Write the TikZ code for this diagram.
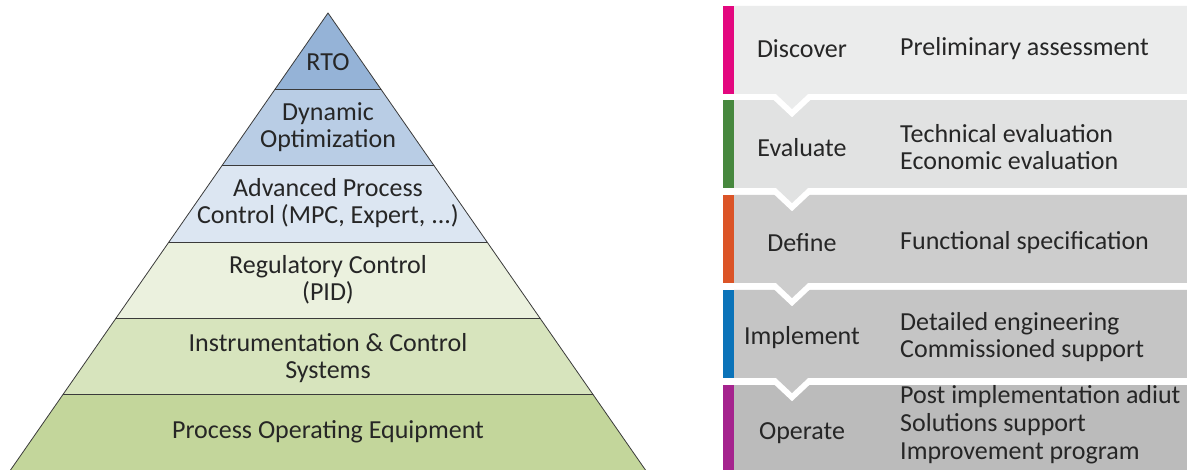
\documentclass[tikz,border=0pt]{standalone}
\usepackage{fontspec}
\setmainfont{Carlito}
\definecolor{textgray}{HTML}{262626}
\definecolor{edgegray}{HTML}{3A3A3A}
\definecolor{lRTO}{HTML}{95B3D7}
\definecolor{lDYN}{HTML}{B9CDE5}
\definecolor{lAPC}{HTML}{DCE6F2}
\definecolor{lREG}{HTML}{EBF1DE}
\definecolor{lINS}{HTML}{D7E4BD}
\definecolor{lPOE}{HTML}{C3D69B}
\definecolor{bDis}{HTML}{EBECEC}
\definecolor{bEva}{HTML}{E1E2E2}
\definecolor{bDef}{HTML}{CDCDCD}
\definecolor{bImp}{HTML}{C5C5C5}
\definecolor{bOpe}{HTML}{BBBBBB}
\definecolor{cDis}{HTML}{E3077F}
\definecolor{cEva}{HTML}{47883E}
\definecolor{cDef}{HTML}{DB5427}
\definecolor{cImp}{HTML}{0B73B9}
\definecolor{cOpe}{HTML}{A5238E}
\begin{document}
\begin{tikzpicture}[x=1pt,y=-1pt,
  txt/.style={font=\fontsize{26}{27}\selectfont, text=textgray, align=center, inner sep=0pt},
  stxt/.style={font=\fontsize{26}{28}\selectfont, text=textgray, align=center, inner sep=0pt},
  ltxt/.style={font=\fontsize{26}{27.8}\selectfont, text=textgray, align=left, inner sep=0pt, anchor=west},
  layerline/.style={draw=edgegray, line width=0.8pt},
  halo/.style={draw=white, line width=12pt, miter limit=10}]
\useasboundingbox (0,0) rectangle (1187,470);
% ---------- pyramid: apex (328,13), slope 0.695 ----------
\begin{scope}
  \clip (328,13) -- (652.4,480) -- (3.6,480) -- cycle;
  \fill[lRTO] (0,0) rectangle (700,89);
  \fill[lDYN] (0,89) rectangle (700,165);
  \fill[lAPC] (0,165) rectangle (700,242);
  \fill[lREG] (0,242) rectangle (700,318);
  \fill[lINS] (0,318) rectangle (700,394);
  \fill[lPOE] (0,394) rectangle (700,480);
  \draw[layerline] (0,89) -- (700,89);
  \draw[layerline] (0,165) -- (700,165);
  \draw[layerline] (0,242) -- (700,242);
  \draw[layerline] (0,318) -- (700,318);
  \draw[layerline] (0,394) -- (700,394);
\end{scope}
\draw[layerline, line join=miter] (3.6,480) -- (328,13) -- (652.4,480);
\node[txt] (rto) at (328,62) {RTO};
\node[txt] (dyn) at (328,127) {Dynamic\\Optimization};
\node[txt] (apc) at (328,203) {Advanced Process\\Control (MPC, Expert, ...)};
\node[txt] (reg) at (328,280) {Regulatory Control\\(PID)};
\node[txt] (ins) at (328,358) {Instrumentation \& Control\\Systems};
\node[txt] (poe) at (328,432) {Process Operating Equipment};
% ---------- stages ----------
\newcommand\stagebox[3]{%
  \path[halo, fill=white] (734,#1) -- (1200,#1) -- (1200,#2) -- (808,#2) -- (792,#2+15) -- (776,#2) -- (734,#2) -- cycle;
  \fill[#3] (734,#1) -- (1200,#1) -- (1200,#2) -- (808,#2) -- (792,#2+15) -- (776,#2) -- (734,#2) -- cycle;}
\fill[bOpe] (734,385) rectangle (1200,480);
\stagebox{290}{378}{bImp}
\stagebox{195}{283}{bDef}
\stagebox{100}{188}{bEva}
\stagebox{6}{94}{bDis}
\fill[cDis] (723,6) rectangle (734,94);
\fill[cEva] (723,100) rectangle (734,188);
\fill[cDef] (723,195) rectangle (734,283);
\fill[cImp] (723,290) rectangle (734,378);
\fill[cOpe] (723,385) rectangle (734,480);
\node[stxt] (dis) at (802,49) {Discover};
\node[stxt] (eva) at (802,148) {Evaluate};
\node[stxt] (def) at (802,243) {Define};
\node[stxt] (imp) at (802,338) {Implement};
\node[stxt] (ope) at (802,433) {Operate};
\node[ltxt] (disd) at (900,49) {Preliminary assessment};
\node[ltxt] (evad) at (900,147) {Technical evaluation\\Economic evaluation};
\node[ltxt] (defd) at (900,243) {Functional specification};
\node[ltxt] (impd) at (900,337) {Detailed engineering\\Commissioned support};
\node[ltxt] (oped) at (900,425) {Post implementation adiut\\Solutions support\\Improvement program};
\end{tikzpicture}
\end{document}
